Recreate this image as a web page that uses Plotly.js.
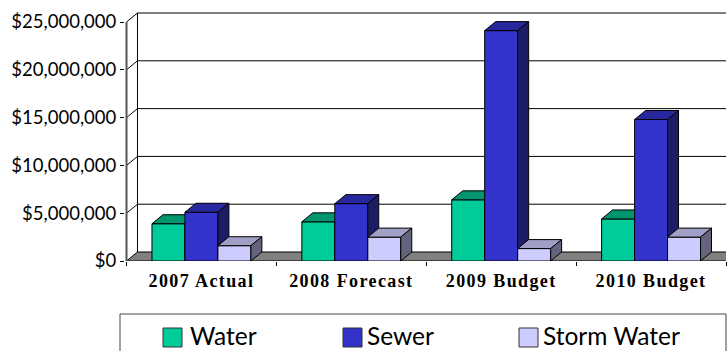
<!DOCTYPE html>
<html>
<head>
<meta charset="utf-8">
<script src="https://cdn.plot.ly/plotly-3.0.1.min.js"></script>
<style>
  html, body { margin: 0; padding: 0; background: #fff; }
  #chart { width: 727px; height: 351px; }
  .xtick text { letter-spacing: 1.4px; }
</style>
</head>
<body>
<div id="chart"></div>
<script>
// Capital spending by utility, per budget year
const categories = ['2007 Actual', '2008 Forecast', '2009 Budget', '2010 Budget'];
const seriesNames = ['Water', 'Sewer', 'Storm Water'];
const water = [3900000, 4100000, 6400000, 4400000];
const sewer = [5100000, 6000000, 24100000, 14800000];
const stormWater = [1600000, 2500000, 1300000, 2500000];
const yTickValues = [0, 5000000, 10000000, 15000000, 20000000, 25000000];

// Face colours for each series: front, top, side
const faceColors = [
  { front: '#00CC99', top: '#00956F', side: '#006A4F' },
  { front: '#3333CC', top: '#28289E', side: '#1D1D66' },
  { front: '#CCCCFF', top: '#A0A0C6', side: '#64647E' }
];

// Figure / plot-area geometry in pixels
const W = 727, H = 351;
const M = { l: 125, r: 1, t: 12, b: 90 };
const PW = W - M.l - M.r, PH = H - M.t - M.b;
const px2paperX = p => (p - M.l) / PW;
const px2paperY = p => (H - M.b - p) / PH;

// Pseudo-3D geometry (in axis units)
const DEPTH_X = 0.0733;      // horizontal depth offset, category units
const DEPTH_Y = 940000;      // vertical depth offset, dollars
const BAR_W = 0.22;
const OFFSETS = [-0.22, 0, 0.22];
const X0 = -0.5, X1 = 3.5;
const Y_TOP = yTickValues[yTickValues.length - 1];

const allSeries = [water, sewer, stormWater];
const traces = [];

// Floor
traces.push({
  type: 'scatter', mode: 'lines', fill: 'toself',
  x: [X0, X1, X1 + DEPTH_X, X0 + DEPTH_X, X0],
  y: [0, 0, DEPTH_Y, DEPTH_Y, 0],
  fillcolor: '#808080', line: { color: '#000', width: 1 },
  hoverinfo: 'skip', showlegend: false
});

// Gridlines running across the side wall and the back wall
const gx = [], gy = [];
yTickValues.forEach(v => {
  if (v === 0) return;
  gx.push(X0, X0 + DEPTH_X, X1 + DEPTH_X, null);
  gy.push(v, v + DEPTH_Y, v + DEPTH_Y, null);
});
// back wall left edge
gx.push(X0 + DEPTH_X, X0 + DEPTH_X);
gy.push(DEPTH_Y, Y_TOP + DEPTH_Y);
traces.push({
  type: 'scatter', mode: 'lines', x: gx, y: gy,
  line: { color: '#000', width: 1 }, hoverinfo: 'skip', showlegend: false
});

// Front value axis line
traces.push({
  type: 'scatter', mode: 'lines', x: [X0, X0], y: [0, Y_TOP],
  line: { color: '#555', width: 2 }, hoverinfo: 'skip', showlegend: false
});

// Bars: front, top and side faces, series drawn left to right
allSeries.forEach((vals, s) => {
  const front = { x: [], y: [] }, top = { x: [], y: [] }, side = { x: [], y: [] };
  vals.forEach((v, i) => {
    const xl = i + OFFSETS[s] - BAR_W / 2;
    const xr = xl + BAR_W;
    front.x.push(xl, xr, xr, xl, xl, null);
    front.y.push(0, 0, v, v, 0, null);
    top.x.push(xl, xr, xr + DEPTH_X, xl + DEPTH_X, xl, null);
    top.y.push(v, v, v + DEPTH_Y, v + DEPTH_Y, v, null);
    side.x.push(xr, xr + DEPTH_X, xr + DEPTH_X, xr, xr, null);
    side.y.push(0, DEPTH_Y, v + DEPTH_Y, v, 0, null);
  });
  [['front', front], ['top', top], ['side', side]].forEach(([face, pts]) => {
    traces.push({
      type: 'scatter', mode: 'lines', fill: 'toself',
      x: pts.x, y: pts.y,
      fillcolor: faceColors[s][face],
      line: { color: '#000', width: 1 },
      hoverinfo: 'skip', showlegend: false,
      name: seriesNames[s]
    });
  });
});

// Legend box with swatches and labels placed below the plot
const swatchLeft = [163, 343, 519];
const labelLeft = [189, 366, 542];
const SW = 19, swatchMidY = 337.5, labelMidY = 335.2;
const shapes = [{
  type: 'rect', xref: 'paper', yref: 'paper',
  x0: px2paperX(120), x1: px2paperX(726), y0: px2paperY(314), y1: px2paperY(365),
  line: { color: '#444', width: 1 }, fillcolor: 'rgba(0,0,0,0)', layer: 'below'
}];
const annotations = [];
seriesNames.forEach((name, s) => {
  shapes.push({
    type: 'rect', xref: 'paper', yref: 'paper',
    x0: px2paperX(swatchLeft[s]), x1: px2paperX(swatchLeft[s] + SW),
    y0: px2paperY(swatchMidY - SW / 2), y1: px2paperY(swatchMidY + SW / 2),
    line: { color: '#333', width: 1 }, fillcolor: faceColors[s].front
  });
  annotations.push({
    xref: 'paper', yref: 'paper',
    x: px2paperX(labelLeft[s]), y: px2paperY(labelMidY),
    xanchor: 'left', yanchor: 'middle', showarrow: false,
    text: name, borderpad: 0,
    font: { family: 'Lato', size: 24.5, color: '#000' }
  });
});

const layout = {
  width: W, height: H,
  margin: M,
  paper_bgcolor: '#fff', plot_bgcolor: '#fff',
  showlegend: false,
  xaxis: {
    range: [-0.51, 3.5],
    tickvals: [0, 1, 2, 3], ticktext: categories,
    ticks: '', showgrid: false, zeroline: false, showline: false,
    tickfont: { family: 'Liberation Serif', size: 18, weight: 'bold', color: '#000' },
    ticklabelstandoff: 7,
    minor: { tick0: 0.5, dtick: 1, ticks: 'outside', ticklen: 4, tickcolor: '#000', tickwidth: 1, showgrid: false },
    fixedrange: true
  },
  yaxis: {
    range: [0, 26046000],
    tickvals: yTickValues, tickformat: '$,.0f',
    ticks: 'outside', ticklen: 4, tickcolor: '#000', tickwidth: 1,
    showgrid: false, zeroline: false, showline: false,
    tickfont: { family: 'Lato', size: 18.5, color: '#000' },
    fixedrange: true
  },
  shapes: shapes,
  annotations: annotations
};

Plotly.newPlot('chart', traces, layout, { displayModeBar: false, staticPlot: true });
</script>
</body>
</html>
